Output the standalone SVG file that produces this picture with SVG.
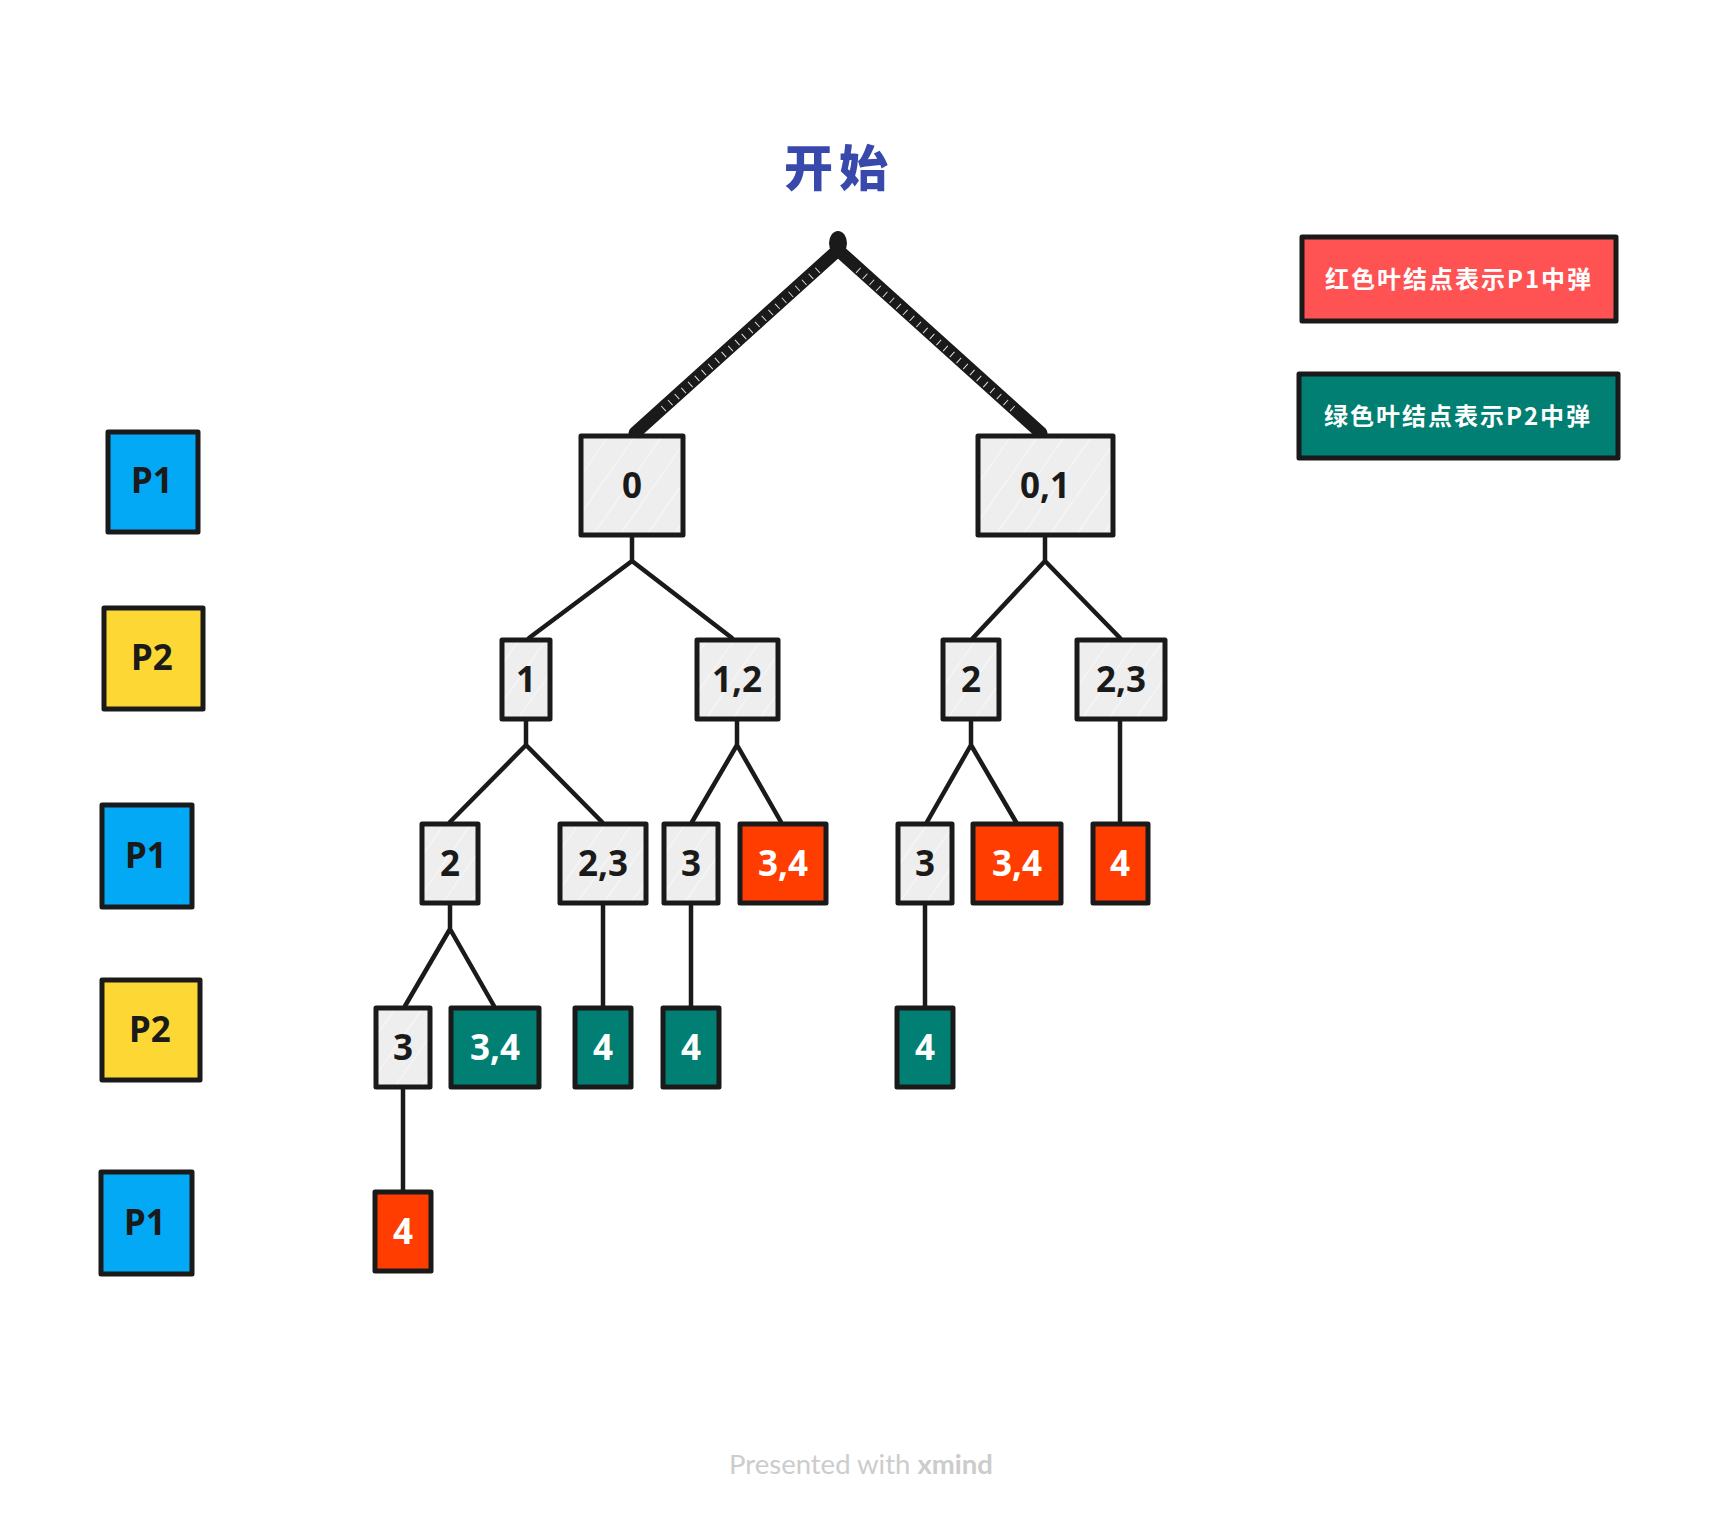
<svg xmlns="http://www.w3.org/2000/svg" width="1718" height="1514" viewBox="0 0 1718 1514">
<defs>
<pattern id="hatch" patternUnits="userSpaceOnUse" width="22" height="22" patternTransform="rotate(35)">
<rect width="22" height="22" fill="#eeeeee"/>
<line x1="0" y1="0" x2="0" y2="22" stroke="#ffffff" stroke-width="1.5" opacity="0.8"/>
</pattern>
</defs>
<style>
.box{stroke:#1a1a1a;stroke-width:5;stroke-linejoin:round}
.g{fill:url(#hatch)}
.r{fill:#ff3d00}
.t{fill:#007f72}
.b{fill:#03a9f4}
.y{fill:#fdd835}
.lr{fill:#ff5252}
.lbl{font-family:"Noto Sans","Liberation Sans",sans-serif;font-weight:700;font-size:35px;text-anchor:middle}
.dk{fill:#1a1a1a}
.wt{fill:#ffffff}
.leg{font-family:"Noto Sans CJK SC","Noto Sans",sans-serif;font-weight:700;font-size:24px;fill:#ffffff;text-anchor:middle;letter-spacing:2px}
.ln{fill:none;stroke:#1a1a1a;stroke-width:4.5;stroke-linecap:round;stroke-linejoin:round}
.thick{fill:none;stroke:#1a1a1a;stroke-width:13;stroke-linecap:round}
.tick{fill:none;stroke:#ffffff;stroke-width:7;stroke-dasharray:1 8;opacity:0.85}
</style>
<rect width="1718" height="1514" fill="#ffffff"/>

<g id="title">
<text x="839" y="186" font-family="Noto Sans CJK SC, Noto Sans, sans-serif" font-weight="900" font-size="49" fill="#3949ab" text-anchor="middle" letter-spacing="6">开始</text>
</g>

<g id="connectors">
<ellipse cx="838" cy="243" rx="9" ry="12" fill="#1a1a1a"/>
<path class="thick" d="M838 250 L635 433"/>
<path class="thick" d="M838 250 L1041 433"/>
<path class="tick" d="M818 270 L662 410"/>
<path class="tick" d="M858 270 L1014 410"/>

<path class="ln" d="M632 537 V561 M632 561 L529 638 M632 561 L732 638"/>
<path class="ln" d="M1045 537 V561 M1045 561 L973 638 M1045 561 L1120 638"/>
<path class="ln" d="M526 721 V745 M526 745 L450 822 M526 745 L602 822"/>
<path class="ln" d="M737 721 V745 M737 745 L692 822 M737 745 L781 822"/>
<path class="ln" d="M971 721 V745 M971 745 L927 822 M971 745 L1016 822"/>
<path class="ln" d="M1120 721 V822"/>
<path class="ln" d="M450 905 V929 M450 929 L405 1006 M450 929 L494 1006"/>
<path class="ln" d="M603 905 V1006"/>
<path class="ln" d="M691 905 V1006"/>
<path class="ln" d="M925 905 V1006"/>
<path class="ln" d="M403 1089 V1190"/>
</g>

<g id="n0"><rect class="box g" x="581" y="436" width="102" height="99"/><text class="lbl dk" x="632" y="498">0</text></g>
<g id="n01"><rect class="box g" x="978" y="436" width="135" height="99"/><text class="lbl dk" x="1045" y="498">0,1</text></g>

<g id="n1"><rect class="box g" x="502" y="640" width="48" height="79"/><text class="lbl dk" x="526" y="692">1</text></g>
<g id="n12"><rect class="box g" x="697" y="640" width="81" height="79"/><text class="lbl dk" x="737" y="692">1,2</text></g>
<g id="n2a"><rect class="box g" x="943" y="640" width="56" height="79"/><text class="lbl dk" x="971" y="692">2</text></g>
<g id="n23a"><rect class="box g" x="1077" y="640" width="88" height="79"/><text class="lbl dk" x="1121" y="692">2,3</text></g>

<g id="n2b"><rect class="box g" x="422" y="824" width="56" height="79"/><text class="lbl dk" x="450" y="876">2</text></g>
<g id="n23b"><rect class="box g" x="560" y="824" width="86" height="79"/><text class="lbl dk" x="603" y="876">2,3</text></g>
<g id="n3a"><rect class="box g" x="664" y="824" width="54" height="79"/><text class="lbl dk" x="691" y="876">3</text></g>
<g id="n34a"><rect class="box r" x="740" y="824" width="86" height="79"/><text class="lbl wt" x="783" y="876">3,4</text></g>
<g id="n3b"><rect class="box g" x="898" y="824" width="54" height="79"/><text class="lbl dk" x="925" y="876">3</text></g>
<g id="n34b"><rect class="box r" x="973" y="824" width="88" height="79"/><text class="lbl wt" x="1017" y="876">3,4</text></g>
<g id="n4a"><rect class="box r" x="1093" y="824" width="55" height="79"/><text class="lbl wt" x="1120" y="876">4</text></g>

<g id="n3c"><rect class="box g" x="376" y="1008" width="54" height="79"/><text class="lbl dk" x="403" y="1060">3</text></g>
<g id="n34c"><rect class="box t" x="451" y="1008" width="88" height="79"/><text class="lbl wt" x="495" y="1060">3,4</text></g>
<g id="n4b"><rect class="box t" x="575" y="1008" width="56" height="79"/><text class="lbl wt" x="603" y="1060">4</text></g>
<g id="n4c"><rect class="box t" x="663" y="1008" width="56" height="79"/><text class="lbl wt" x="691" y="1060">4</text></g>
<g id="n4d"><rect class="box t" x="897" y="1008" width="56" height="79"/><text class="lbl wt" x="925" y="1060">4</text></g>

<g id="n4e"><rect class="box r" x="375" y="1192" width="56" height="79"/><text class="lbl wt" x="403" y="1244">4</text></g>

<g id="p1a"><rect class="box b" x="108" y="432" width="90" height="100"/><text class="lbl dk" x="152" y="493">P1</text></g>
<g id="p2a"><rect class="box y" x="104" y="608" width="99" height="101"/><text class="lbl dk" x="152" y="670">P2</text></g>
<g id="p1b"><rect class="box b" x="102" y="805" width="90" height="102"/><text class="lbl dk" x="146" y="868">P1</text></g>
<g id="p2b"><rect class="box y" x="102" y="980" width="98" height="100"/><text class="lbl dk" x="150" y="1042">P2</text></g>
<g id="p1c"><rect class="box b" x="101" y="1172" width="91" height="102"/><text class="lbl dk" x="145" y="1235">P1</text></g>

<g id="legend-red"><rect class="box lr" x="1302" y="237" width="314" height="84"/><text class="leg" x="1459" y="288">红色叶结点表示P1中弹</text></g>
<g id="legend-green"><rect class="box t" x="1299" y="374" width="319" height="84"/><text class="leg" x="1458" y="425">绿色叶结点表示P2中弹</text></g>

<g id="footer">
<text x="861" y="1474" font-family="Lato, Noto Sans, sans-serif" font-size="27.5" fill="#cccccc" text-anchor="middle">Presented with <tspan font-weight="700">xmind</tspan></text>
</g>
</svg>
